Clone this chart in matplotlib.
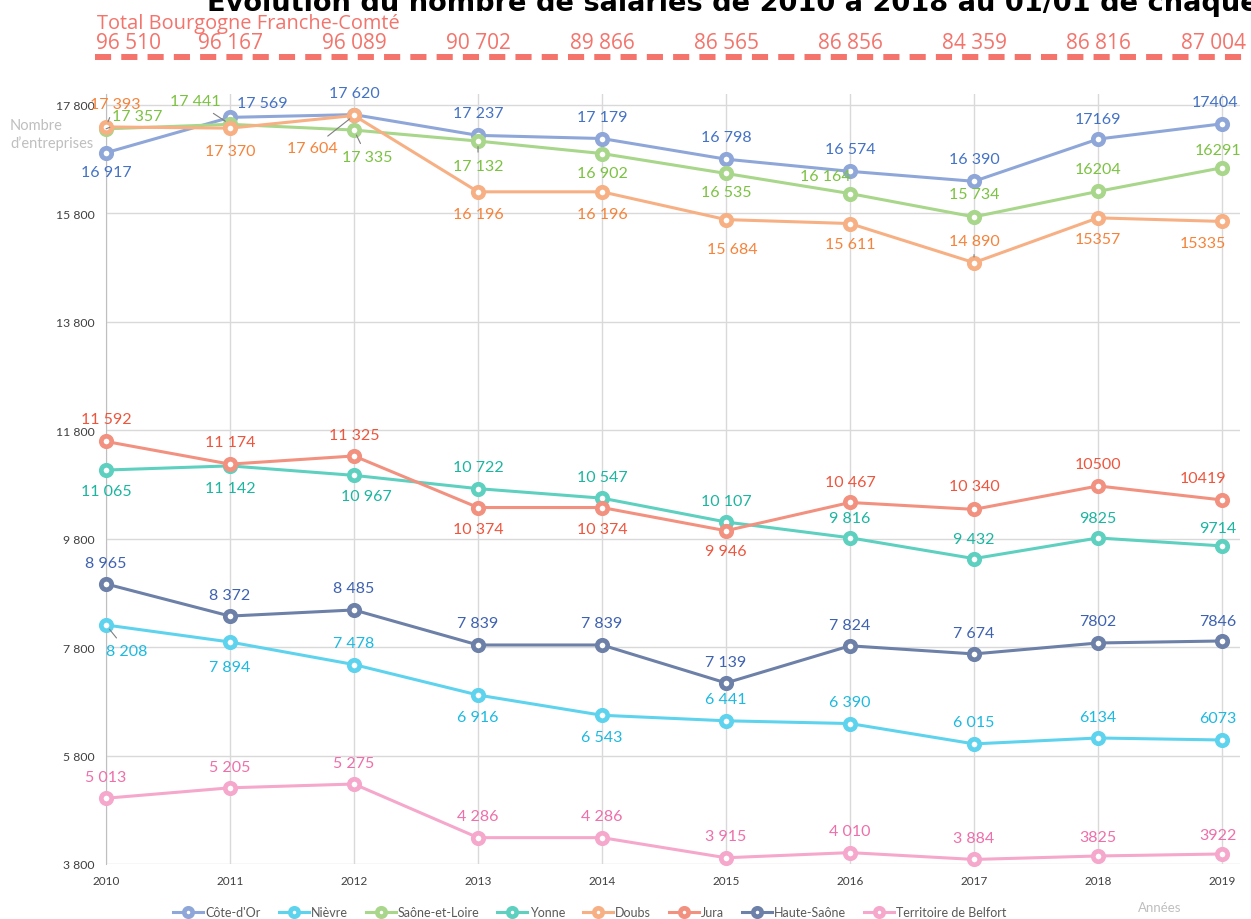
import matplotlib
matplotlib.use('Agg')
import matplotlib.pyplot as plt
from matplotlib.lines import Line2D

plt.rcParams['font.family'] = ['Lato', 'DejaVu Sans']

years = [2010, 2011, 2012, 2013, 2014, 2015, 2016, 2017, 2018, 2019]
totals = [96510, 96167, 96089, 90702, 89866, 86565, 86856, 84359, 86816, 87004]

cote_dor = [16917, 17569, 17620, 17237, 17179, 16798, 16574, 16390, 17169, 17450]
nievre = [8208, 7894, 7478, 6916, 6543, 6441, 6390, 6015, 6124, 6087]
saone_loire = [17357, 17441, 17335, 17132, 16902, 16535, 16164, 15734, 16204, 16640]
yonne = [11065, 11142, 10967, 10722, 10547, 10107, 9816, 9432, 9813, 9666]
doubs = [17393, 17370, 17604, 16196, 16196, 15684, 15611, 14890, 15716, 15650]
jura = [11592, 11174, 11325, 10374, 10374, 9946, 10467, 10340, 10772, 10514]
haute_saone = [8965, 8372, 8485, 7839, 7839, 7139, 7824, 7674, 7876, 7913]
belfort = [5013, 5205, 5275, 4286, 4286, 3915, 4010, 3884, 3948, 3985]

# étiquettes affichées pour 2018 et 2019 (saisies à part dans l'original)
lbl_2018 = {"Côte-d'Or": 17169, 'Nièvre': 6134, 'Saône-et-Loire': 16204, 'Yonne': 9825,
            'Doubs': 15357, 'Jura': 10500, 'Haute-Saône': 7802, 'Territoire de Belfort': 3825}
lbl_2019 = {"Côte-d'Or": 17404, 'Nièvre': 6073, 'Saône-et-Loire': 16291, 'Yonne': 9714,
            'Doubs': 15335, 'Jura': 10419, 'Haute-Saône': 7846, 'Territoire de Belfort': 3922}

yticks = [3800, 5800, 7800, 9800, 11800, 13800, 15800, 17800]

# (nom, valeurs, couleur ligne, couleur étiquette)
series = [
    ("Côte-d'Or", cote_dor, '#8EA7D8', '#4472C4'),
    ('Nièvre', nievre, '#5ED3EE', '#1DB9E0'),
    ('Saône-et-Loire', saone_loire, '#A8D68A', '#7CC242'),
    ('Yonne', yonne, '#5DD0C0', '#1BB5A0'),
    ('Doubs', doubs, '#F7B084', '#F5833A'),
    ('Jura', jura, '#F2917F', '#EE553D'),
    ('Haute-Saône', haute_saone, '#6D80A8', '#3F62B0'),
    ('Territoire de Belfort', belfort, '#F5A8CB', '#EE6FAA'),
]

# décalage des étiquettes en pixels (dx, dy), et traits de rappel
U = (0, 22)
D = (0, -22)
offsets = {
    "Côte-d'Or": [(0, -19), (32, 14), U, U, U, U, U, U, (0, 20), (-7, 22)],
    'Nièvre': [(21, -26), (0, -25), U, D, D, U, U, U, (0, 21), (-4, 22)],
    'Saône-et-Loire': [(31, 13), (-35, 23), (13, -27), (0, -25), (0, -19), (0, -19),
                       (-25, 18), (0, 23), U, (-4, 18)],
    'Yonne': [(0, -21), D, (12, -21), U, (0, 21), (0, 21), (0, 20), (0, 20), (0, 20), (-4, 18)],
    'Doubs': [(9, 23), (0, -23), (-42, -33), D, D, (6, -29), (0, -20), U, (0, -21), (-19, -22)],
    'Jura': [U, U, (0, 21), (0, -21), (0, -21), (0, -20), (0, 20), (0, 23), U, (-19, 22)],
    'Haute-Saône': [(0, 21), (0, 21), U, U, U, (0, 21), (0, 21), (0, 21), U, (-4, 20)],
    'Territoire de Belfort': [(0, 21), (0, 21), (0, 21), U, U, U, U, (0, 21), (0, 19), (-4, 19)],
}
leaders = {
    'Nièvre': [0], 'Saône-et-Loire': [0, 1, 2, 3], 'Doubs': [0, 2, 7],
}


def fmt(v):
    return f'{v:,}'.replace(',', ' ')


fig = plt.figure(figsize=(12.51, 9.2), dpi=100)
ax = fig.add_axes([106 / 1251, 55 / 920, 1134 / 1251, 770 / 920])

for name, vals, lc, tc in series:
    ax.plot(years, vals, color=lc, lw=2.2, marker='o', markersize=7.5,
            markerfacecolor='white', markeredgecolor=lc, markeredgewidth=3.4,
            clip_on=False, zorder=3, label=name)
    for i, (x, v) in enumerate(zip(years, vals)):
        if x == 2018:
            txt = str(lbl_2018[name])
        elif x == 2019:
            txt = str(lbl_2019[name])
        else:
            txt = fmt(v)
        dx, dy = offsets[name][i]
        kw = {}
        if i in leaders.get(name, []):
            kw['arrowprops'] = dict(arrowstyle='-', color='#7F7F7F', lw=0.8,
                                    shrinkA=3, shrinkB=4)
        ax.annotate(txt, (x, v), xytext=(dx * 0.72, dy * 0.72),
                    textcoords='offset points', ha='center', va='center',
                    fontsize=11.5, color=tc, annotation_clip=False, zorder=4, **kw)

ax.set_xlim(2010, 2019.145)
ax.set_ylim(3800, 18000)
ax.set_xticks(years)
ax.set_xticklabels([str(y) for y in years], fontsize=8.5, color='#404040')
ax.set_yticks(yticks)
ax.set_yticklabels([fmt(t) for t in yticks], fontsize=8.8, color='#404040')
ax.tick_params(length=0, pad=8)
ax.grid(True, color='#D9D9D9', lw=1)
ax.set_axisbelow(True)
for s in ['top', 'right', 'bottom']:
    ax.spines[s].set_visible(False)
ax.spines['left'].set_color('#BFBFBF')

# total régional en haut
fig.text(97 / 1251, 1 - 29 / 920, 'Total Bourgogne Franche-Comté', fontsize=14.4,
         color='#F4736B', va='baseline', ha='left', family=['Open Sans', 'DejaVu Sans'])
for i, (x, t) in enumerate(zip(years, totals)):
    xp = ax.transData.transform((x, 0))[0] / 1251
    ha = 'center'
    if i == 0:
        xp, ha = 96 / 1251, 'left'
    elif i == len(years) - 1:
        xp, ha = 1246 / 1251, 'right'
    fig.text(xp, 1 - 49 / 920, fmt(t), fontsize=15, color='#F4736B',
             va='baseline', ha=ha, family=['Open Sans', 'DejaVu Sans'])
fig.add_artist(Line2D([95 / 1251, 1.0], [1 - 58 / 920] * 2, color='#F4736B', lw=4.3,
                      linestyle=(0, (2.7, 1.7)), transform=fig.transFigure))

fig.text(207 / 1251, 1 - 11 / 920,
         'Evolution du nombre de salariés de 2010 à 2018 au 01/01 de chaque année',
         fontsize=19.6, fontweight='bold', color='black', va='baseline', ha='left',
         family=['DejaVu Sans'])

fig.text(10 / 1251, 1 - 135 / 920, 'Nombre\nd’entreprises', fontsize=10.5,
         color='#BFBFBF', va='center', ha='left', linespacing=1.3)
fig.text(1160 / 1251, 1 - 908 / 920, 'Années', fontsize=9.5, color='#BFBFBF',
         va='center', ha='center')

ax.legend(loc='center', bbox_to_anchor=(590 / 1251, 1 - 913 / 920),
          bbox_transform=fig.transFigure, ncol=8, frameon=False, fontsize=9,
          labelcolor='#595959', handlelength=2.4, columnspacing=1.4,
          handletextpad=0.2, markerscale=0.8)

fig.savefig('out.png', dpi=100, facecolor='white')
